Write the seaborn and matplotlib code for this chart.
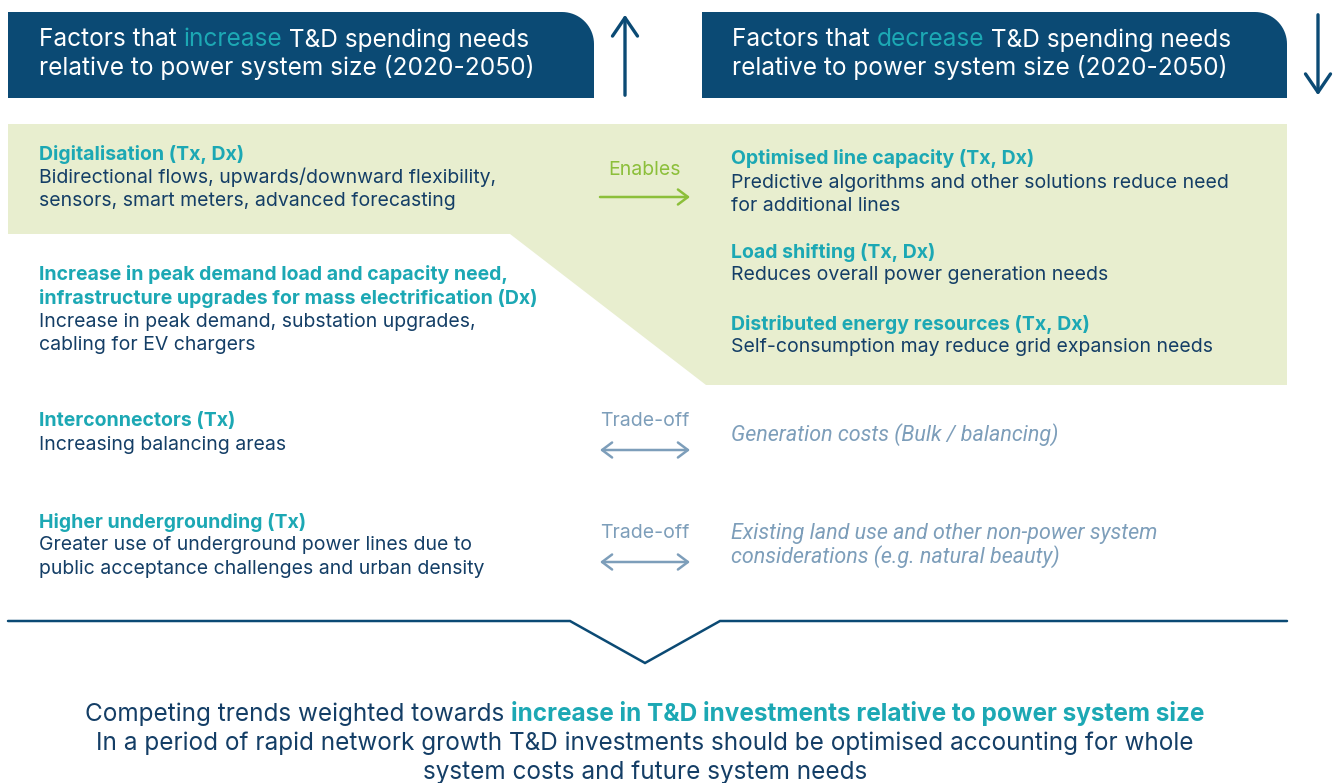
import numpy as np
import matplotlib
matplotlib.use("Agg")
import matplotlib.pyplot as plt
from matplotlib.patches import Polygon
import seaborn as sns

# ---------------- data (texts) ----------------
header_left = [("Factors that ", "w"), ("increase", "t"), (" T&D spending needs", "w")]
header_left2 = "relative to power system size (2020-2050)"
header_right = [("Factors that ", "w"), ("decrease", "t"), (" T&D spending needs", "w")]
header_right2 = "relative to power system size (2020-2050)"

left_titles = ["Digitalisation (Tx, Dx)",
               "Increase in peak demand load and capacity need,\ninfrastructure upgrades for mass electrification (Dx)",
               "Interconnectors (Tx)",
               "Higher undergrounding (Tx)"]
left_bodies = ["Bidirectional flows, upwards/downward flexibility,\nsensors, smart meters, advanced forecasting",
               "Increase in peak demand, substation upgrades,\ncabling for EV chargers",
               "Increasing balancing areas",
               "Greater use of underground power lines due to\npublic acceptance challenges and urban density"]
left_y = [154, 275, 421, 522]

right_titles = ["Optimised line capacity (Tx, Dx)",
                "Load shifting (Tx, Dx)",
                "Distributed energy resources (Tx, Dx)"]
right_bodies = ["Predictive algorithms and other solutions reduce need\nfor additional lines",
                "Reduces overall power generation needs",
                "Self-consumption may reduce grid expansion needs"]
right_y = [159, 252, 324]

grey_items = ["Generation costs (Bulk / balancing)",
              "Existing land use and other non-power system\nconsiderations (e.g. natural beauty)"]
grey_y = [435, 533]

mid_labels = ["Enables", "Trade-off", "Trade-off"]
mid_label_y = [170, 421, 533]
mid_arrow_y = [197, 450, 562]

bottom_line1 = [("Competing trends weighted towards ", "d"),
                ("increase in T&D investments relative to power system size", "tb")]
bottom_line2 = "In a period of rapid network growth T&D investments should be optimised accounting for whole"
bottom_line3 = "system costs and future system needs"

# ---------------- style ----------------
NAVY = "#0B4A74"
TEAL = "#1CA8B4"
DARK = "#143E66"
GREEN_BG = "#E8EECF"
GREEN = "#8CBF3A"
GREYBLUE = "#7D9EBA"

sns.set_theme(style="white")
plt.rcParams["font.family"] = ["Inter", "DejaVu Sans"]

W, H = 1335, 783
fig = plt.figure(figsize=(W / 100, H / 100), dpi=100)
ax = fig.add_axes([0, 0, 1, 1])
ax.set_xlim(0, W)
ax.set_ylim(H, 0)
ax.axis("off")
sns.despine(ax=ax, left=True, bottom=True)

renderer = fig.canvas.get_renderer()

def rounded_header(x0, x1, y0, y1, r):
    th = np.linspace(np.pi / 2, 0, 20)
    cx, cy = x1 - r, y0 + r
    arc = [(cx + r * np.cos(t), cy - r * np.sin(t)) for t in th]
    pts = [(x0, y1), (x0, y0)] + arc + [(x1, y1)]
    return Polygon(pts, closed=True, facecolor=NAVY, edgecolor="none")

ax.add_patch(rounded_header(8, 594, 12, 98, 32))
ax.add_patch(rounded_header(702, 1287, 12, 98, 32))

# green area
ax.add_patch(Polygon([(8, 124), (1287, 124), (1287, 385), (706, 385), (510, 234), (8, 234)],
                     closed=True, facecolor=GREEN_BG, edgecolor="none"))

def width_px(t):
    bb = t.get_window_extent(renderer=renderer)
    return bb.width

colmap = {"w": "white", "t": TEAL, "d": DARK, "tb": TEAL}

def seg_text(x, y, segs, size, center=False):
    objs = []
    for s, c in segs:
        o = ax.text(0, y, s, fontsize=size, color=colmap[c], va="center", ha="left",
                    fontweight="bold" if c == "tb" else "normal")
        objs.append(o)
    ws = [width_px(o) for o in objs]
    total = sum(ws)
    cur = x - total / 2 if center else x
    for o, w in zip(objs, ws):
        o.set_x(cur)
        cur += w

HS = 17.6
seg_text(39, 40, header_left, HS)
ax.text(39, 68, header_left2, fontsize=HS, color="white", va="center")
seg_text(732, 40, header_right, HS)
ax.text(732, 68, header_right2, fontsize=HS, color="white", va="center")

# header arrows
ax.annotate("", xy=(625, 12), xytext=(625, 98),
            arrowprops=dict(arrowstyle="->,head_length=1.1,head_width=0.75", color=NAVY, lw=2.4))
ax.annotate("", xy=(1318, 98), xytext=(1318, 12),
            arrowprops=dict(arrowstyle="->,head_length=1.1,head_width=0.75", color=NAVY, lw=2.4))

BS = 14.0
LS = 23.5
def block(x, y, title, body, tcol=TEAL, bcol=DARK):
    tl = title.split("\n")
    for i, l in enumerate(tl):
        ax.text(x, y + i * LS, l, fontsize=BS, color=tcol, fontweight="bold", va="center")
    bl = body.split("\n")
    for j, l in enumerate(bl):
        ax.text(x, y + (len(tl) + j) * LS, l, fontsize=BS, color=bcol, va="center")

for t, b, y in zip(left_titles, left_bodies, left_y):
    block(39, y, t, b)
for t, b, y in zip(right_titles, right_bodies, right_y):
    block(731, y, t, b)
for g, y in zip(grey_items, grey_y):
    for j, l in enumerate(g.split("\n")):
        ax.text(731, y + j * LS, l, fontsize=15.5, color=GREYBLUE, style="italic", va="center",
                family=["Roboto", "DejaVu Sans"])

for i, (lab, ly, ay) in enumerate(zip(mid_labels, mid_label_y, mid_arrow_y)):
    col = GREEN if i == 0 else GREYBLUE
    ax.text(645, ly, lab, fontsize=BS, color=col, ha="center", va="center")
    style = "->,head_length=0.6,head_width=0.45" if i == 0 else "<->,head_length=0.6,head_width=0.45"
    ax.annotate("", xy=(690, ay), xytext=(600, ay),
                arrowprops=dict(arrowstyle=style, color=col, lw=1.8, shrinkA=0, shrinkB=0))

# bottom line with V
ax.plot([8, 570, 645, 720, 1287], [621, 621, 663, 621, 621], color=NAVY, lw=1.8,
        solid_joinstyle="miter")

FS = 17.5
seg_text(645, 714, bottom_line1, FS, center=True)
ax.text(645, 743, bottom_line2, fontsize=FS, color=DARK, ha="center", va="center")
ax.text(645, 772, bottom_line3, fontsize=FS, color=DARK, ha="center", va="center")

fig.savefig("out.png", dpi=100)
